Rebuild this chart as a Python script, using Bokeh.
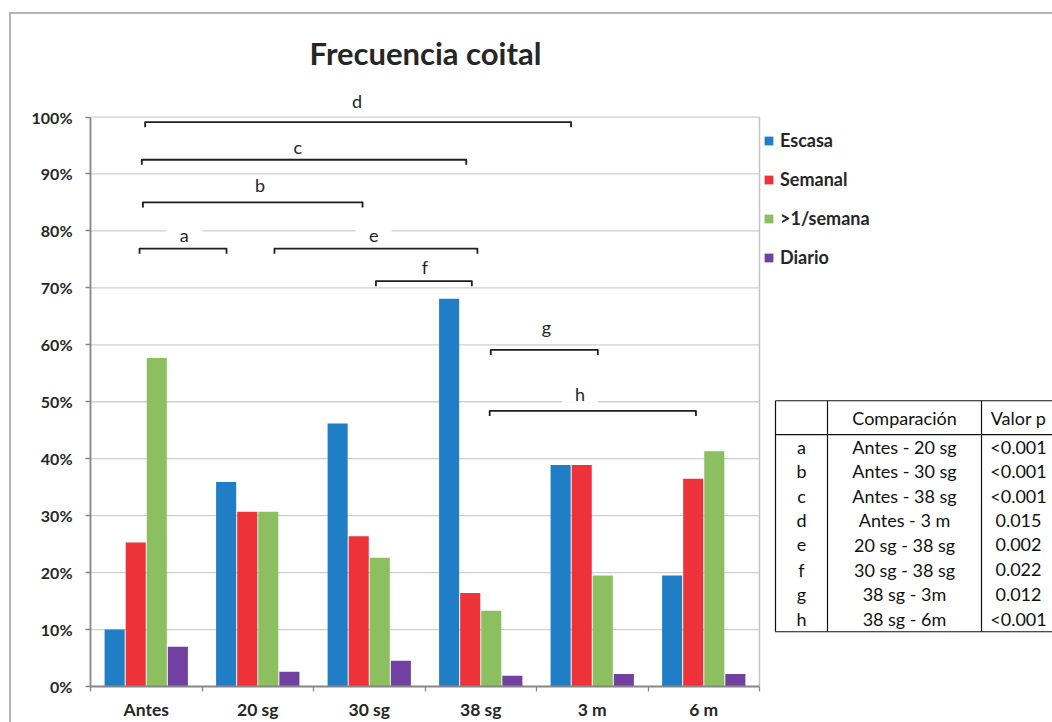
from bokeh.plotting import figure
from bokeh.models import (FixedTicker, Legend, LegendItem, ColumnDataSource, InlineStyleSheet)
from bokeh.core.properties import value
from bokeh.transform import dodge
from bokeh.embed import file_html
from bokeh.resources import INLINE

# ---------------- data ----------------
categories = ["Antes", "20 sg", "30 sg", "38 sg", "3 m", "6 m"]
escasa = [10.0, 35.9, 46.2, 68.1, 38.9, 19.5]
semanal = [25.3, 30.7, 26.4, 16.4, 38.9, 36.5]
mas_una = [57.7, 30.7, 22.6, 13.3, 19.5, 41.3]
diario = [7.0, 2.6, 4.5, 1.9, 2.2, 2.2]
series_names = ["Escasa", "Semanal", ">1/semana", "Diario"]
series_colors = ["#1f7ec5", "#ee3239", "#8cbf5f", "#7140a0"]

y_ticks = [0, 10, 20, 30, 40, 50, 60, 70, 80, 90, 100]
y_tick_labels = ["0%", "10%", "20%", "30%", "40%", "50%", "60%", "70%", "80%", "90%", "100%"]

bracket_labels = ["a", "b", "c", "d", "e", "f", "g", "h"]
bracket_start = [0.44, 0.47, 0.46, 0.49, 1.65, 2.56, 3.59, 3.58]
bracket_end = [1.22, 2.44, 3.37, 4.31, 3.47, 3.42, 4.55, 5.43]
bracket_level = [76.9, 85.0, 92.5, 99.1, 76.9, 71.2, 59.1, 48.4]
bracket_label_x = [0.84, 1.52, 1.86, 2.39, 2.54, 3.0, 4.09, 4.39]
bracket_label_level = [79.2, 88.1, 94.8, 102.8, 79.2, 73.6, 63.1, 51.4]

table_header = ["", "Comparación", "Valor p"]
table_comparisons = ["Antes - 20 sg", "Antes - 30 sg", "Antes - 38 sg", "Antes - 3 m",
                     "20 sg - 38 sg", "30 sg - 38 sg", "38 sg - 3m", "38 sg - 6m"]
table_p = ["<0.001", "<0.001", "<0.001", "0.015", "0.002", "0.022", "0.012", "<0.001"]

title_text = "Frecuencia coital"

# ---------------- layout helpers ----------------
W, H = 1052, 722
FL, FR, FT, FB = 90, 1052, 10, 689
PX_X = 111.5
PX_Y = 5.72


def X(px):
    return (px - FL) / PX_X


def Y(py):
    return (FB - py) / PX_Y


FONT = "Lato"
DARK = "#262626"

frame_css = InlineStyleSheet(css="""
:host { position: relative; }
:host::after {
  content: "";
  position: absolute;
  left: 9px; top: 12px;
  width: calc(100% - 9px); height: calc(100% - 12px);
  box-sizing: border-box;
  border-left: 2px solid #b2b6ba;
  border-top: 2px solid #b2b6ba;
  pointer-events: none;
}
""")

p = figure(width=W, height=H, x_range=(0, X(FR)), y_range=(0, Y(FT)),
           output_backend="svg", toolbar_location=None,
           min_border_left=FL, min_border_right=0, min_border_top=FT,
           min_border_bottom=H - FB, stylesheets=[frame_css])
p.outline_line_color = None
p.grid.visible = False
p.background_fill_color = "white"
p.border_fill_color = "white"

# gridlines (plot area only)
grid_y = [t for t in y_ticks if t > 0]
p.segment(x0=[0] * len(grid_y), x1=[6] * len(grid_y), y0=grid_y, y1=grid_y,
          line_color="#cfcfcf", line_width=1.3)
p.segment(x0=[6], x1=[6], y0=[0], y1=[100], line_color="#c4c4c4", line_width=1.5)

# bars
src = ColumnDataSource(dict(xc=[i + 0.5 for i in range(len(categories))],
                            escasa=escasa, semanal=semanal, mas=mas_una, diario=diario))
offsets = [-0.2835, -0.0945, 0.0945, 0.2835]
fields = ["escasa", "semanal", "mas", "diario"]
renderers = []
for f, off, col in zip(fields, offsets, series_colors):
    r = p.vbar(x=dodge("xc", off), top=f, width=0.18, bottom=0, source=src,
               fill_color=col, line_color=None)
    renderers.append(r)

# axes
p.yaxis.ticker = FixedTicker(ticks=y_ticks)
p.yaxis.major_label_overrides = {t: l for t, l in zip(y_ticks, y_tick_labels)}
p.yaxis.bounds = (0, 100)
p.yaxis.axis_line_color = "#868686"
p.yaxis.axis_line_width = 1.8
p.yaxis.major_tick_line_color = "#868686"
p.yaxis.major_tick_line_width = 1.3
p.yaxis.major_tick_out = 5
p.yaxis.major_tick_in = 0
p.yaxis.minor_tick_line_color = None
p.yaxis.major_label_text_font = FONT
p.yaxis.major_label_text_font_style = "bold"
p.yaxis.major_label_text_font_size = "16px"
p.yaxis.major_label_text_color = DARK
p.yaxis.major_label_standoff = 13

centers = [i + 0.5 for i in range(len(categories))]
p.xaxis.ticker = FixedTicker(ticks=centers, minor_ticks=list(range(len(categories) + 1)))
p.xaxis.major_label_overrides = {c: l for c, l in zip(centers, categories)}
p.xaxis.bounds = (0, 6)
p.xaxis.axis_line_color = "#868686"
p.xaxis.axis_line_width = 1.8
p.xaxis.major_tick_line_color = None
p.xaxis.major_tick_out = 0
p.xaxis.major_tick_in = 0
p.xaxis.minor_tick_line_color = "#868686"
p.xaxis.minor_tick_line_width = 1.3
p.xaxis.minor_tick_out = 5
p.xaxis.minor_tick_in = 0
p.xaxis.major_label_text_font = FONT
p.xaxis.major_label_text_font_style = "bold"
p.xaxis.major_label_text_font_size = "17.5px"
p.xaxis.major_label_text_color = DARK
p.xaxis.major_label_standoff = 7

# title
p.text(x=[X(425)], y=[Y(53)], text=[title_text], text_align="center", text_baseline="middle",
       text_font=value(FONT), text_font_style="bold", text_font_size="31px", text_color=DARK)

# bracket labels: white boxes, text, then brackets
p.rect(x=bracket_label_x, y=bracket_label_level, width=36, height=18, width_units="screen",
       height_units="screen", fill_color="white", line_color=None)
p.text(x=bracket_label_x, y=bracket_label_level, text=bracket_labels, text_align="center",
       text_baseline="middle", text_font=value(FONT), text_font_size="18px",
       text_color=DARK)
hook = 0.9
xs = [[a, a, b, b] for a, b in zip(bracket_start, bracket_end)]
ys = [[lv - hook, lv, lv, lv - hook] for lv in bracket_level]
p.multi_line(xs=xs, ys=ys, line_color="#1e1e1e", line_width=1.8, line_join="round")

# legend
legend = Legend(items=[LegendItem(label=n, renderers=[r]) for n, r in zip(series_names, renderers)],
                location=(763 - FL, FB - 271), orientation="vertical",
                glyph_width=11, glyph_height=11, label_height=22, spacing=17,
                label_standoff=6, padding=0, margin=0,
                border_line_color=None, background_fill_alpha=0,
                label_text_font=FONT, label_text_font_style="bold",
                label_text_font_size="18px", label_text_color=DARK)
p.add_layout(legend, "center")

# table
t_left, t_right, t_top, t_bottom = 775, 1052, 402, 634
t_head = 436
col_div = [827, 981]
hx0 = [t_left, t_left, t_left]
hx1 = [t_right, t_right, t_right]
hy = [t_top, t_head, t_bottom]
p.segment(x0=[X(v) for v in hx0], x1=[X(v) for v in hx1],
          y0=[Y(v) for v in hy], y1=[Y(v) for v in hy], line_color="#111111", line_width=1.2)
vx = [t_left] + col_div
p.segment(x0=[X(v) for v in vx], x1=[X(v) for v in vx],
          y0=[Y(t_top)] * 3, y1=[Y(t_bottom)] * 3, line_color="#111111", line_width=1.2)

col_cx = [801, 904, 1018]
row_y = [448 + i * 24.7 for i in range(len(bracket_labels))]
tbl_x, tbl_y, tbl_t = [], [], []
for cx, txt in zip(col_cx, table_header):
    if txt:
        tbl_x.append(X(cx)); tbl_y.append(Y(419)); tbl_t.append(txt)
for ry, lab, comp, pv in zip(row_y, bracket_labels, table_comparisons, table_p):
    for cx, txt in zip(col_cx, [lab, comp, pv]):
        tbl_x.append(X(cx)); tbl_y.append(Y(ry)); tbl_t.append(txt)
p.text(x=tbl_x, y=tbl_y, text=tbl_t, text_align="center", text_baseline="middle",
       text_font=value(FONT), text_font_size="18px", text_color="#111111")

open("out.html", "w").write(file_html(p, INLINE))
